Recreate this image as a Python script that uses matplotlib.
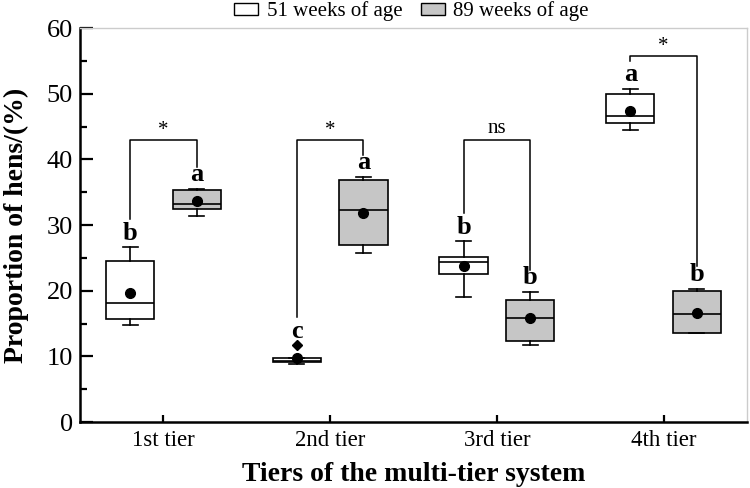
import matplotlib.pyplot as plt
from matplotlib.patches import Patch
import numpy as np

plt.rcParams['font.family'] = ['Liberation Serif', 'DejaVu Serif']

# Tiers and box statistics (proportion of hens, %)
tiers = ['1st tier', '2nd tier', '3rd tier', '4th tier']
groups = ['51 weeks of age', '89 weeks of age']

# 51 weeks of age
w51_lo = [14.8, 8.8, 19.1, 44.4]
w51_q1 = [15.7, 9.1, 22.5, 45.6]
w51_med = [18.2, 9.3, 24.4, 46.6]
w51_q3 = [24.5, 9.8, 25.2, 50.0]
w51_hi = [26.6, 9.8, 27.5, 50.7]
w51_mean = [19.7, 9.7, 23.7, 47.3]
w51_fliers = [[], [11.7], [], []]
w51_letters = ['b', 'c', 'b', 'a']

# 89 weeks of age
w89_lo = [31.4, 25.8, 11.7, 13.5]
w89_q1 = [32.5, 26.9, 12.4, 13.6]
w89_med = [33.2, 32.3, 15.9, 16.5]
w89_q3 = [35.3, 36.9, 18.6, 19.9]
w89_hi = [35.5, 37.3, 19.8, 20.3]
w89_mean = [33.6, 31.9, 15.8, 16.6]
w89_fliers = [[], [], [], []]
w89_letters = ['a', 'a', 'b', 'b']

# significance between ages within each tier
signif = ['*', '*', 'ns', '*']
bracket_top = [42.9, 42.9, 42.9, 55.7]

gray = '#c6c6c6'


def make_stats(lo, q1, med, q3, hi, mean, fliers):
    return [dict(whislo=a, q1=b, med=c, q3=d, whishi=e, mean=m, fliers=f)
            for a, b, c, d, e, m, f in zip(lo, q1, med, q3, hi, mean, fliers)]


fig = plt.figure(figsize=(7.5, 4.88), dpi=100)
ax = fig.add_axes([0.1067, 0.1352, 0.8893, 0.8074])

x = np.arange(1, len(tiers) + 1)
off = 0.2
bw = 0.29

common = dict(widths=bw, capwidths=0.09, showmeans=True, patch_artist=True,
              medianprops=dict(color='black', lw=1.2),
              whiskerprops=dict(color='black', lw=1.2),
              capprops=dict(color='black', lw=1.2),
              meanprops=dict(marker='o', markerfacecolor='black', markeredgecolor='black', markersize=7),
              flierprops=dict(marker='D', markerfacecolor='black', markeredgecolor='black', markersize=5))

s51 = make_stats(w51_lo, w51_q1, w51_med, w51_q3, w51_hi, w51_mean, w51_fliers)
s89 = make_stats(w89_lo, w89_q1, w89_med, w89_q3, w89_hi, w89_mean, w89_fliers)
b1 = ax.bxp(s51, positions=x - off, boxprops=dict(facecolor='white', edgecolor='black', lw=1.2), **common)
b2 = ax.bxp(s89, positions=x + off, boxprops=dict(facecolor=gray, edgecolor='black', lw=1.2), **common)

# letters and brackets
for i in range(len(tiers)):
    top51 = max([w51_hi[i]] + w51_fliers[i])
    top89 = max([w89_hi[i]] + w89_fliers[i])
    ax.text(x[i] - off, top51 + 0.4, w51_letters[i], ha='center', va='bottom',
            fontsize=19, fontweight='bold')
    ax.text(x[i] + off, top89 + 0.4, w89_letters[i], ha='center', va='bottom',
            fontsize=19, fontweight='bold')
    ax.plot([x[i] - off, x[i] - off, x[i] + off, x[i] + off],
            [top51 + 4.3, bracket_top[i], bracket_top[i], top89 + 3.4],
            color='black', lw=1.1)
    if signif[i] == 'ns':
        ax.text(x[i], bracket_top[i] + 0.4, signif[i], ha='center', va='bottom', fontsize=15)
    else:
        ax.text(x[i], bracket_top[i] + 0.1, signif[i], ha='center', va='bottom', fontsize=15)

ax.set_xlim(0.5, len(tiers) + 0.5)
ax.set_ylim(0, 60)
ax.set_xticks(x)
ax.set_xticklabels(tiers, fontsize=16.5)
ax.set_yticks(np.arange(0, 61, 10))
ax.set_yticks(np.arange(5, 60, 10), minor=True)
ax.tick_params(axis='y', which='major', direction='in', length=9, width=1.6, labelsize=19, pad=5)
ax.tick_params(axis='y', which='minor', direction='in', length=5, width=1.6)
ax.tick_params(axis='x', which='major', direction='in', length=5, width=1.6, pad=6)

ax.spines['left'].set_linewidth(1.8)
ax.spines['bottom'].set_linewidth(1.8)
for s in ['top', 'right']:
    ax.spines[s].set_color('#cccccc')
    ax.spines[s].set_linewidth(1.0)

ax.set_xlabel('Tiers of the multi-tier system', fontsize=20, fontweight='bold', labelpad=8)
ax.set_ylabel('Proportion of hens/(%)', fontsize=20, fontweight='bold')
ax.yaxis.set_label_coords(-0.077, 0.5)

handles = [Patch(facecolor='white', edgecolor='black', lw=1.0, label=groups[0]),
           Patch(facecolor=gray, edgecolor='black', lw=1.0, label=groups[1])]
ax.legend(handles=handles, loc='lower center', bbox_to_anchor=(0.497, 0.985), ncol=2,
          frameon=False, fontsize=15, handlelength=1.15, handleheight=0.5,
          handletextpad=0.4, columnspacing=0.9, borderpad=0.1)

fig.savefig('out.png', dpi=100)
